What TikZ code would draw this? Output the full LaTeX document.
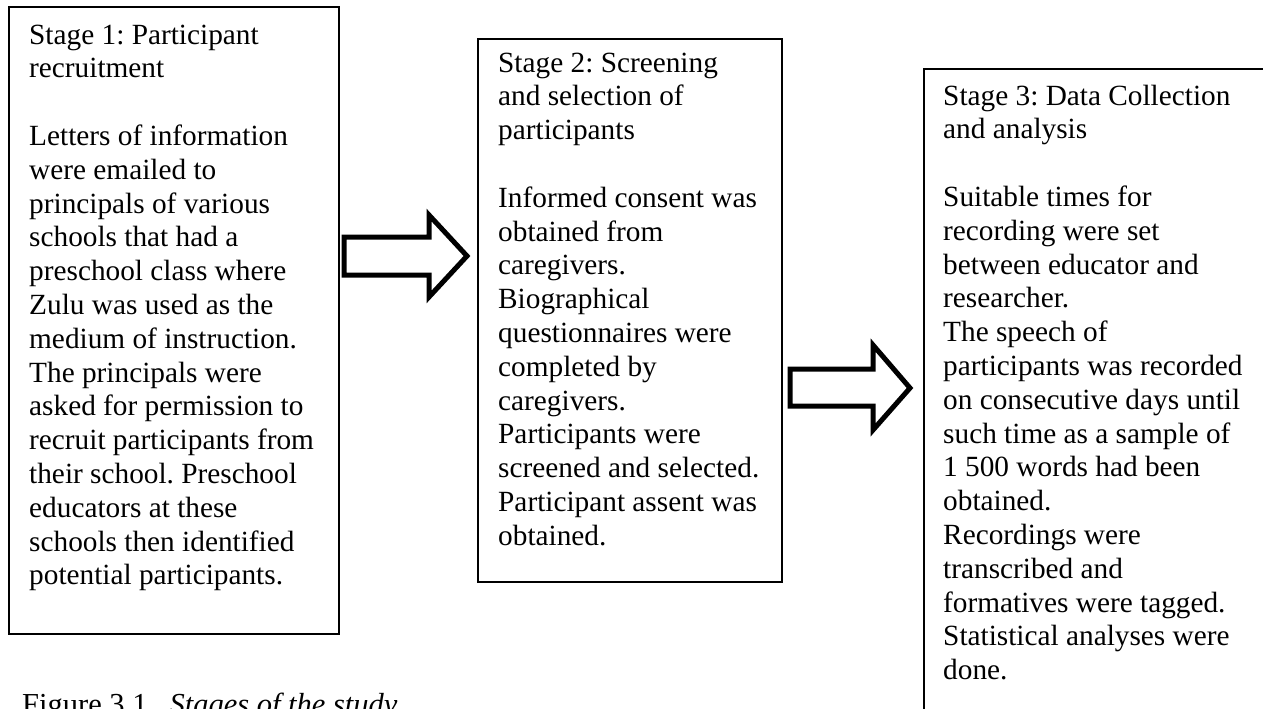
\documentclass[tikz,border=0pt]{standalone}
\usepackage{fontspec}
\setmainfont{Liberation Serif}
\frenchspacing
\begin{document}
\begin{tikzpicture}[x=1pt,y=-1pt,
  stagebox/.style={draw=black, line width=1.6pt, inner sep=0pt, anchor=north west},
  stagetext/.style={anchor=north west, inner sep=0pt, align=left, font=\fontsize{29.3}{33.8}\selectfont},
  blockarrow/.style={draw=black, line width=5pt, fill=white, line join=miter},
  captiontext/.style={anchor=base west, inner sep=0pt, font=\fontsize{30.5}{36}\selectfont}]
\useasboundingbox (0,0) rectangle (1263,709);
\clip (0,0) rectangle (1263,709);
\fill[white] (0,0) rectangle (1263,709);

% boxes
\node[stagebox, minimum width=330pt, minimum height=627pt] (box1) at (8,6) {};
\node[stagebox, minimum width=304pt, minimum height=543pt] (box2) at (477,38) {};
\node[stagebox, minimum width=360pt, minimum height=680pt] (box3) at (923,68) {};

% texts
\node[stagetext] (t1) at (29,20.3) {\strut Stage 1: Participant\\
recruitment\\[33.8pt]
Letters of information\\
were emailed to\\
principals of various\\
schools that had a\\
preschool class where\\
Zulu was used as the\\
medium of instruction.\\
The principals were\\
asked for permission to\\
recruit participants from\\
their school. Preschool\\
educators at these\\
schools then identified\\
potential participants.};

\node[stagetext] (t2) at (498,48.3) {\strut Stage 2: Screening\\
and selection of\\
participants\\[33.8pt]
Informed consent was\\
obtained from\\
caregivers.\\
Biographical\\
questionnaires were\\
completed by\\
caregivers.\\
Participants were\\
screened and selected.\\
Participant assent was\\
obtained.};

\node[stagetext] (t3) at (943,81.3) {\strut Stage 3: Data Collection\\
and analysis\\[33.8pt]
Suitable times for\\
recording were set\\
between educator and\\
researcher.\\
The speech of\\
participants was recorded\\
on consecutive days until\\
such time as a sample of\\
1 500 words had been\\
obtained.\\
Recordings were\\
transcribed and\\
formatives were tagged.\\
Statistical analyses were\\
done.};

% block arrows
\draw[blockarrow] (344,237) -- (429,237) -- (429,215) -- (467,256) -- (429,297) -- (429,275) -- (344,275) -- cycle;
\draw[blockarrow] (790,369) -- (873,369) -- (873,345) -- (910,388) -- (873,430) -- (873,406) -- (790,406) -- cycle;

% caption
\node[captiontext] (cap) at (22,714) {Figure 3.1\hspace{22pt}\textit{Stages of the study}};
\end{tikzpicture}
\end{document}
